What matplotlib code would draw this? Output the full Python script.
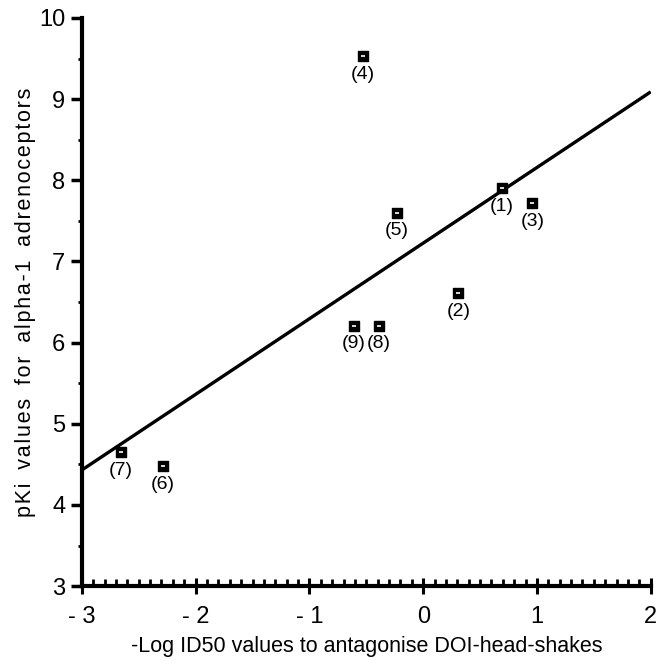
import numpy as np
import matplotlib.pyplot as plt

# Compound data: -log ID50 (DOI head-shakes) vs pKi at alpha-1 adrenoceptors
labels = ["(1)", "(2)", "(3)", "(4)", "(5)", "(6)", "(7)", "(8)", "(9)"]
log_id50 = [0.69, 0.31, 0.96, -0.53, -0.23, -2.29, -2.66, -0.39, -0.61]
pki = [7.90, 6.61, 7.72, 9.53, 7.60, 4.48, 4.65, 6.21, 6.21]

# regression line end points
fit_x = [-3.0, 2.0]
fit_y = [4.43, 9.09]

x_ticks = [-3, -2, -1, 0, 1, 2]
x_ticklabels = ["- 3", "- 2", "- 1", "0", "1", "2"]
y_ticks = [3, 4, 5, 6, 7, 8, 9, 10]

plt.rcParams["font.family"] = ["Liberation Sans", "DejaVu Sans"]

fig = plt.figure(figsize=(6.6, 6.66), dpi=100)
ax = fig.add_axes([0.124, 0.12, 0.862, 0.853])

ax.plot(fit_x, fit_y, color="black", lw=2.4, solid_capstyle="butt", zorder=2)

ax.scatter(log_id50, pki, marker="s", s=60, color="black", zorder=3)
ax.scatter(log_id50, pki, marker="_", s=10, color="white", linewidths=1.2, zorder=4)

for lab, x, y in zip(labels, log_id50, pki):
    ax.annotate(lab, (x, y), xytext=(0, -7), textcoords="offset points",
                ha="center", va="top", fontsize=14)

ax.set_xlim(-3, 2)
ax.set_ylim(3, 10)
ax.set_xticks(x_ticks)
ax.set_xticklabels(x_ticklabels)
ax.set_xticks(np.arange(-3, 2.001, 0.1), minor=True)
ax.set_yticks(y_ticks)
ax.set_yticks(np.arange(3.5, 10, 1.0), minor=True)

ax.spines["top"].set_visible(False)
ax.spines["right"].set_visible(False)
ax.spines["left"].set_linewidth(3)
ax.spines["bottom"].set_linewidth(3)

ax.tick_params(axis="x", which="major", direction="inout", length=12, width=2.2,
               labelsize=17, pad=8)
ax.tick_params(axis="x", which="minor", direction="in", length=5, width=2)
ax.tick_params(axis="y", which="major", direction="out", length=8, width=2.5,
               labelsize=17, pad=4)
ax.tick_params(axis="y", which="minor", direction="out", length=3, width=2)

ax.set_xlabel("-Log ID50 values to antagonise DOI-head-shakes", fontsize=15.5,
              labelpad=6)
# slightly letter-spaced y label
ylab = "\u200a".join("pKi values for alpha-1 adrenoceptors").replace(" \u200a", "  ")
ax.set_ylabel(ylab, fontsize=15.5, labelpad=2)

fig.savefig("out.png", dpi=100)
plt.close(fig)
